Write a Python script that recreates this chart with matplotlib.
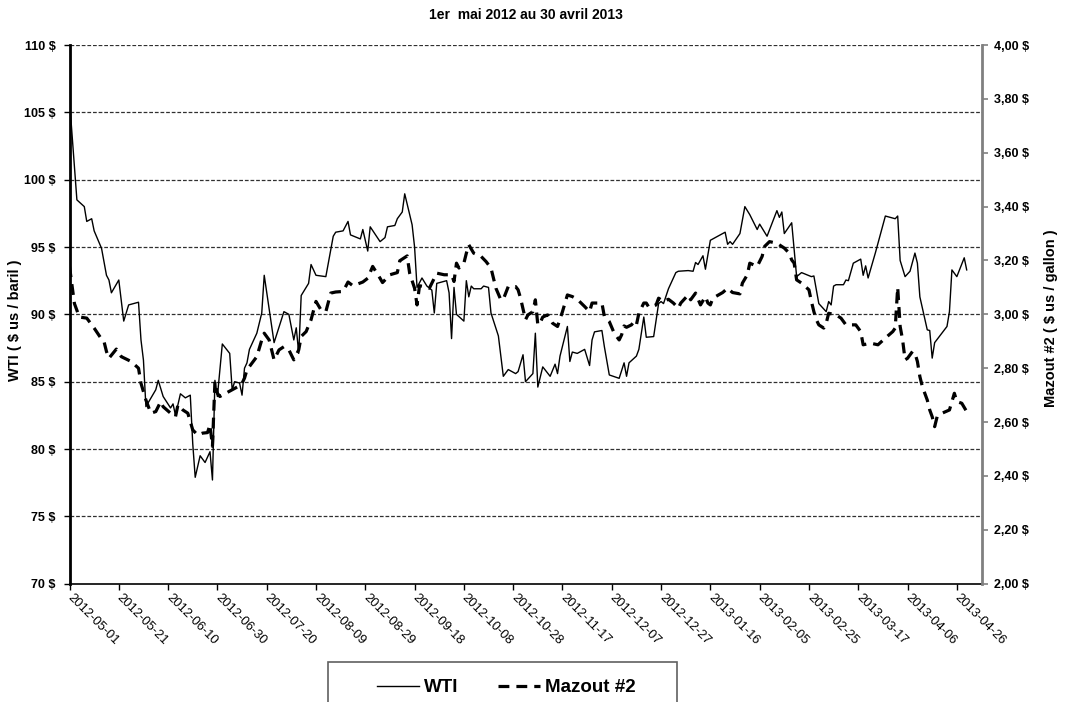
import matplotlib
matplotlib.use("Agg")
import matplotlib.pyplot as plt
import matplotlib.dates as mdates
from matplotlib.patches import Rectangle
from matplotlib.lines import Line2D
from matplotlib.ticker import FixedLocator, FuncFormatter
import pandas as pd

plt.rcParams['font.family'] = ['Liberation Sans', 'DejaVu Sans']

# ---------------- data ----------------
start_date = "2012-05-01"
title = "1er  mai 2012 au 30 avril 2013"

# WTI ($ US / baril): day offset from 2012-05-01, value
wti_day = [0, 3, 6, 7, 9, 10, 13, 15, 16, 17, 20, 22, 24, 28, 29, 30, 31, 35, 36, 38,
           41, 42, 43, 45, 47, 49, 50, 51, 53, 55, 57, 58, 59, 60, 62, 65, 66, 67, 69, 70,
           71, 72, 73, 76, 78, 79, 83, 87, 89, 91, 92, 93, 94, 97, 98, 100, 104, 107, 108, 111,
           113, 114, 118, 119, 121, 122, 126, 128, 129, 132, 133, 135, 136, 139, 140, 141, 143, 145, 147, 148,
           149, 153, 154, 155, 156, 157, 160, 161, 162, 163, 164, 167, 168, 170, 171, 174, 176, 178, 181, 182,
           184, 185, 188, 189, 190, 192, 195, 197, 198, 199, 202, 203, 204, 206, 209, 211, 212, 213, 216, 217,
           219, 223, 225, 226, 227, 230, 231, 233, 234, 237, 239, 240, 241, 243, 246, 247, 251, 253, 254, 255,
           257, 258, 260, 266, 267, 268, 269, 272, 274, 276, 279, 280, 283, 287, 288, 289, 290, 293, 295, 297,
           301, 302, 304, 307, 308, 309, 310, 311, 314, 315, 316, 318, 321, 322, 323, 324, 327, 331, 333, 335,
           336, 337, 339, 341, 343, 344, 345, 348, 349, 350, 351, 356, 357, 358, 360, 363, 364]
wti_val = [105.9, 98.5, 98.0, 96.9, 97.1, 96.2, 94.9, 92.9, 92.55, 91.6, 92.55, 89.5, 90.7, 90.9, 88.1, 86.6, 83.15, 84.4, 85.1, 83.9,
           83.05, 83.35, 82.5, 84.1, 83.8, 84.0, 80.4, 77.9, 79.5, 79.0, 79.8, 77.7, 85.1, 83.9, 87.8, 87.1, 84.4, 85.0, 84.9, 84.0,
           86.0, 86.4, 87.4, 88.6, 90.1, 92.9, 87.9, 90.2, 90.0, 88.1, 89.0, 87.1, 91.4, 92.3, 93.7, 92.9, 92.8, 95.8, 96.1, 96.2,
           96.9, 95.9, 95.6, 96.3, 94.7, 96.5, 95.4, 95.7, 96.5, 96.6, 97.1, 97.6, 98.95, 96.65, 95.0, 92.0, 92.7, 92.1, 91.8, 90.1,
           92.3, 92.5, 91.6, 88.2, 92.0, 90.0, 89.5, 92.5, 91.3, 92.1, 91.9, 91.9, 92.1, 92.0, 90.1, 88.4, 85.4, 85.9, 85.6, 85.75,
           87.0, 85.0, 85.6, 88.6, 84.6, 86.1, 85.4, 86.3, 85.6, 86.9, 89.1, 86.5, 87.2, 87.1, 87.4, 86.2, 88.1, 88.7, 88.8, 87.6,
           85.5, 85.25, 86.4, 85.4, 86.4, 86.9, 87.4, 89.8, 88.3, 88.35, 90.8, 90.95, 90.8, 91.9, 93.1, 93.2, 93.25, 93.2, 93.85, 93.7,
           94.35, 93.35, 95.5, 96.1, 95.2, 95.4, 95.2, 96.0, 98.0, 97.4, 96.3, 96.7, 95.8, 97.7, 97.2, 97.6, 96.0, 96.8, 92.8, 93.1,
           92.8, 92.85, 90.8, 90.2, 90.95, 90.7, 92.1, 92.2, 92.2, 92.55, 92.5, 93.8, 94.1, 92.9, 93.6, 92.7, 94.6, 97.3, 97.2, 97.1,
           97.3, 94.0, 92.8, 93.2, 94.55, 93.8, 91.3, 88.85, 88.8, 86.75, 87.9, 89.1, 90.2, 93.3, 92.8, 94.2, 93.3]

# Mazout #2 ($ US / gallon): day offset from 2012-05-01, value
mazout_day = [0, 2, 4, 7, 10, 13, 14, 15, 16, 19, 21, 25, 28, 29, 31, 33, 35, 37, 38, 41,
              43, 44, 46, 48, 50, 52, 54, 56, 57, 58, 59, 60, 61, 62, 66, 68, 70, 71, 72, 76,
              78, 79, 81, 83, 85, 87, 89, 91, 93, 94, 96, 98, 100, 102, 104, 106, 108, 111, 113, 115,
              119, 121, 123, 126, 127, 130, 133, 134, 137, 138, 140, 141, 142, 144, 146, 149, 152, 155, 156, 157,
              158, 160, 161, 162, 164, 167, 169, 171, 172, 173, 175, 176, 178, 181, 182, 183, 185, 186, 188, 189,
              190, 191, 192, 194, 196, 198, 200, 202, 204, 206, 209, 211, 212, 216, 217, 219, 221, 223, 224, 225,
              226, 228, 229, 230, 231, 233, 234, 235, 238, 239, 241, 243, 245, 247, 248, 251, 252, 254, 256, 258,
              259, 260, 261, 265, 267, 269, 272, 273, 275, 276, 279, 281, 282, 284, 287, 290, 292, 293, 294, 295,
              297, 300, 301, 302, 303, 304, 306, 307, 308, 311, 313, 315, 319, 321, 322, 325, 328, 331, 334, 335,
              336, 337, 338, 339, 340, 342, 343, 344, 345, 346, 348, 349, 350, 351, 352, 354, 357, 358, 359, 360,
              362, 364]
mazout_val = [3.178, 3.04, 2.99, 2.986, 2.949, 2.908, 2.899, 2.862, 2.837, 2.871, 2.843, 2.825, 2.80, 2.744, 2.682, 2.633, 2.639, 2.676, 2.657, 2.633,
              2.62, 2.664, 2.645, 2.633, 2.571, 2.552, 2.559, 2.561, 2.59, 2.51, 2.75, 2.707, 2.695, 2.70, 2.72, 2.73, 2.744, 2.763, 2.794, 2.843,
              2.905, 2.93, 2.905, 2.831, 2.868, 2.88, 2.868, 2.831, 2.868, 2.918, 2.936, 2.98, 3.048, 3.017, 3.01, 3.079, 3.083, 3.085, 3.12, 3.106,
              3.12, 3.134, 3.178, 3.134, 3.118, 3.147, 3.155, 3.199, 3.217, 3.153, 3.097, 3.035, 3.106, 3.103, 3.097, 3.153, 3.147, 3.147, 3.122, 3.19,
              3.172, 3.19, 3.227, 3.258, 3.227, 3.215, 3.196, 3.172, 3.134, 3.097, 3.054, 3.056, 3.103, 3.103, 3.091, 3.06, 2.98, 2.998, 3.01, 3.054,
              2.961, 2.97, 2.99, 2.998, 2.967, 2.955, 3.01, 3.072, 3.066, 3.056, 3.029, 3.01, 3.042, 3.042, 2.992, 2.973, 2.93, 2.905, 2.924, 2.957,
              2.952, 2.961, 2.973, 2.961, 3.004, 3.042, 3.042, 3.027, 3.035, 3.06, 3.048, 3.056, 3.042, 3.023, 3.042, 3.072, 3.054, 3.079, 3.035, 3.066,
              3.042, 3.035, 3.06, 3.081, 3.097, 3.081, 3.076, 3.116, 3.147, 3.19, 3.178, 3.215, 3.252, 3.27, 3.264, 3.246, 3.227, 3.202, 3.19, 3.128,
              3.116, 3.091, 3.048, 3.01, 2.98, 2.961, 2.949, 2.967, 3.004, 2.998, 2.986, 2.961, 2.961, 2.936, 2.887, 2.893, 2.887, 2.912, 2.936, 2.949,
              3.10, 2.955, 2.905, 2.831, 2.837, 2.862, 2.856, 2.825, 2.769, 2.732, 2.682, 2.645, 2.62, 2.583, 2.62, 2.633, 2.645, 2.676, 2.707, 2.676,
              2.67, 2.639]

left_ticks = [70, 75, 80, 85, 90, 95, 100, 105, 110]
right_ticks = [2.0, 2.2, 2.4, 2.6, 2.8, 3.0, 3.2, 3.4, 3.6, 3.8, 4.0]
x_tick_dates = ["2012-05-01", "2012-05-21", "2012-06-10", "2012-06-30", "2012-07-20",
                "2012-08-09", "2012-08-29", "2012-09-18", "2012-10-08", "2012-10-28",
                "2012-11-17", "2012-12-07", "2012-12-27", "2013-01-16", "2013-02-05",
                "2013-02-25", "2013-03-17", "2013-04-06", "2013-04-26"]
x_end_date = "2013-05-06 05:00"

# ---------------- figure ----------------
W, H = 1067, 702
fig = plt.figure(figsize=(W / 100, H / 100), dpi=100)
L, R, T, B = 69.5, 982, 45, 583.7
ax = fig.add_axes([L / W, 1 - B / H, (R - L) / W, (B - T) / H])
ax2 = ax.twinx()

t0 = pd.Timestamp(start_date)
wti_dates = [t0 + pd.Timedelta(days=d) for d in wti_day]
maz_dates = [t0 + pd.Timedelta(days=d) for d in mazout_day]

for v in left_ticks[1:]:
    ax.axhline(v, color='#303030', lw=0.9, linestyle=(0, (3, 1.5)), zorder=1)

ax.plot(wti_dates, wti_val, color='black', lw=1.0, zorder=3)
ax2.plot(maz_dates, mazout_val, color='black', lw=2.3, dashes=(3.4, 2.2), zorder=3)

ax.set_xlim(t0, pd.Timestamp(x_end_date))
ax.set_ylim(70, 110)
ax2.set_ylim(2.0, 4.0)

ax.xaxis.set_major_locator(FixedLocator(mdates.date2num(pd.to_datetime(x_tick_dates))))
ax.xaxis.set_major_formatter(mdates.DateFormatter('%Y-%m-%d'))
for lab in ax.get_xticklabels():
    lab.set_rotation(-45)
    lab.set_ha('left')
    lab.set_va('center')
    lab.set_rotation_mode('anchor')
    lab.set_fontsize(9.3)

ax.set_yticks(left_ticks)
ax.yaxis.set_major_formatter(FuncFormatter(lambda v, p: f"{v:.0f} $"))
ax2.set_yticks(right_ticks)
ax2.yaxis.set_major_formatter(FuncFormatter(lambda v, p: f"{v:.2f} $".replace('.', ',')))

for lab in ax.get_yticklabels() + ax2.get_yticklabels():
    lab.set_fontweight('bold')
    lab.set_fontsize(9)

ax.tick_params(axis='x', direction='out', length=4, width=1, pad=5)
ax.tick_params(axis='y', direction='out', length=4, width=1, pad=6)
ax2.tick_params(axis='y', direction='out', length=4, width=1.2, pad=5, colors='#808080', labelcolor='black')

for a in (ax, ax2):
    a.spines['top'].set_visible(False)
ax.spines['left'].set_linewidth(2)
ax.spines['left'].set_color('black')
ax.spines['bottom'].set_linewidth(1.2)
ax2.spines['left'].set_visible(False)
ax2.spines['bottom'].set_visible(False)
ax2.spines['right'].set_color('#808080')
ax2.spines['right'].set_linewidth(2)
ax.spines['right'].set_visible(False)

fig.text(526 / W, 1 - 15 / H, title, ha='center', va='center', fontsize=10, fontweight='bold')
fig.text(15 / W, 1 - 320 / H, "WTI ( $ us / baril )", rotation=90, ha='center', va='center',
         fontsize=10.5, fontweight='bold')
fig.text(1051 / W, 1 - 318 / H, "Mazout #2 ( $ us / gallon )", rotation=90, ha='center', va='center',
         fontsize=10.5, fontweight='bold')

# legend
handles = [Line2D([], [], color='black', lw=1.0),
           Line2D([], [], color='black', lw=2.3, dashes=(3.4, 2.2))]
leg = fig.legend(handles, ["WTI", "Mazout #2"], loc='center', ncol=2,
                 bbox_to_anchor=(506 / W, 1 - 687.6 / H), frameon=False,
                 prop={'weight': 'bold', 'size': 13.5}, handlelength=2.25,
                 handletextpad=0.27, columnspacing=2.1)
fig.patches.append(Rectangle((328 / W, -0.05), (677 - 328) / W, 0.05 + (702 - 662) / H,
                             transform=fig.transFigure, fill=False, edgecolor='#606060', lw=1.2))

fig.savefig("out.png", dpi=100)
